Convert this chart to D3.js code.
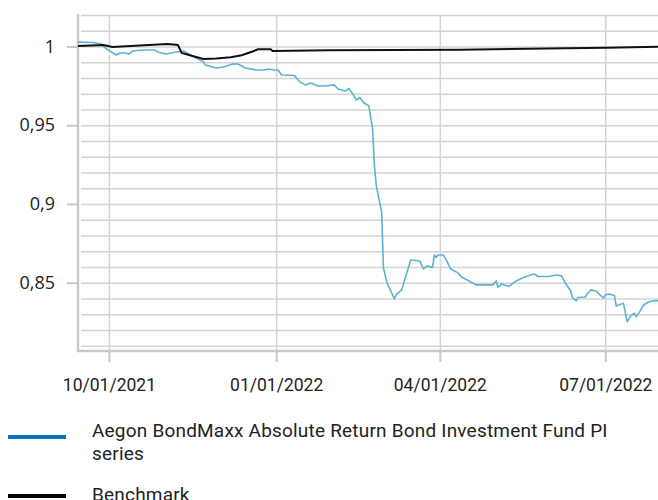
<!DOCTYPE html>
<html>
<head>
<meta charset="utf-8">
<script src="https://cdn.jsdelivr.net/npm/d3@7"></script>
<style>
  body { margin: 0; background: #fff; }
  svg { display: block; }
  .grid line { stroke: #d4d4d4; stroke-width: 1.5; }
  .grid path { display: none; }
</style>
</head>
<body>
<svg id="chart" width="658" height="500"></svg>
<script>
// fund series
var fundDates = ["2021-09-14","2021-09-22","2021-09-27","2021-09-29","2021-10-05","2021-10-07","2021-10-10","2021-10-12","2021-10-14","2021-10-20","2021-10-26","2021-10-28","2021-11-01","2021-11-07","2021-11-11","2021-11-13","2021-11-18","2021-11-22","2021-11-23","2021-11-25","2021-11-29","2021-12-03","2021-12-08","2021-12-11","2021-12-15","2021-12-21","2021-12-25","2021-12-28","2021-12-31","2022-01-02","2022-01-04","2022-01-11","2022-01-14","2022-01-17","2022-01-20","2022-01-24","2022-01-28","2022-02-02","2022-02-04","2022-02-08","2022-02-10","2022-02-13","2022-02-14","2022-02-16","2022-02-18","2022-02-21","2022-02-22","2022-02-23","2022-02-24","2022-02-25","2022-02-28","2022-03-01","2022-03-03","2022-03-07","2022-03-08","2022-03-11","2022-03-16","2022-03-21","2022-03-23","2022-03-25","2022-03-28","2022-03-29","2022-03-30","2022-03-31","2022-04-03","2022-04-05","2022-04-07","2022-04-11","2022-04-13","2022-04-17","2022-04-21","2022-04-25","2022-04-30","2022-05-02","2022-05-03","2022-05-05","2022-05-09","2022-05-13","2022-05-17","2022-05-21","2022-05-23","2022-05-25","2022-05-31","2022-06-04","2022-06-07","2022-06-09","2022-06-12","2022-06-13","2022-06-15","2022-06-16","2022-06-20","2022-06-21","2022-06-23","2022-06-26","2022-06-28","2022-06-30","2022-07-01","2022-07-03","2022-07-06","2022-07-07","2022-07-11","2022-07-13","2022-07-15","2022-07-17","2022-07-18","2022-07-20","2022-07-22","2022-07-25","2022-07-27","2022-07-30"];
var fundValues = [1.0028,1.0025,1.0016,0.9990,0.9946,0.9959,0.9959,0.9952,0.9971,0.9978,0.9978,0.9965,0.9952,0.9965,0.9971,0.9959,0.9927,0.9902,0.9883,0.9876,0.9863,0.9870,0.9889,0.9889,0.9863,0.9851,0.9851,0.9857,0.9851,0.9851,0.9819,0.9816,0.9775,0.9756,0.9768,0.9749,0.9749,0.9756,0.9730,0.9717,0.9733,0.9683,0.9660,0.9676,0.9644,0.9622,0.9546,0.9479,0.9248,0.9121,0.8949,0.8593,0.8498,0.8397,0.8422,0.8454,0.8644,0.8638,0.8587,0.8606,0.8597,0.8676,0.8660,0.8676,0.8676,0.8633,0.8587,0.8562,0.8536,0.8511,0.8486,0.8486,0.8486,0.8511,0.8470,0.8492,0.8476,0.8511,0.8533,0.8549,0.8555,0.8539,0.8539,0.8549,0.8543,0.8498,0.8447,0.8403,0.8384,0.8406,0.8409,0.8428,0.8454,0.8447,0.8422,0.8403,0.8422,0.8428,0.8419,0.8352,0.8369,0.8252,0.8289,0.8306,0.8284,0.8316,0.8358,0.8379,0.8384,0.8386];

// benchmark
var benchDates = ["2021-09-14","2021-09-28","2021-10-03","2021-10-18","2021-11-02","2021-11-07","2021-11-08","2021-11-10","2021-11-16","2021-11-22","2021-11-29","2021-12-07","2021-12-13","2021-12-19","2021-12-22","2021-12-29","2021-12-30","2022-01-30","2022-04-12","2022-07-01","2022-07-30"];
var benchValues = [1.0003,1.0010,0.9997,1.0006,1.0016,1.0011,1.0009,0.9959,0.9940,0.9921,0.9923,0.9932,0.9944,0.9968,0.9982,0.9982,0.9971,0.9976,0.9980,0.9992,0.9999];

var xTickDates = ["2021-10-01","2022-01-01","2022-04-01","2022-07-01"];
var xTickLabels = ["10/01/2021","01/01/2022","04/01/2022","07/01/2022"];
var yTickValues = [0.85, 0.9, 0.95, 1];
var yTickLabels = ["0,85","0,9","0,95","1"];
var legendLabels = [["Aegon BondMaxx Absolute Return Bond Investment Fund PI", "series"], ["Benchmark"]];
var legendColors = ["#0a70c0", "#000000"];

var parse = d3.timeParse("%Y-%m-%d");
var svg = d3.select("#chart");

var x = d3.scaleTime()
  .domain([parse("2021-09-14"), parse("2022-07-30")])
  .range([78, 658]);
var y = d3.scaleLinear()
  .domain([0.8066, 1.02])
  .range([351, 15]);

// horizontal grid every 0.01
var minor = d3.range(81, 103).map(function(d) { return d / 100; });
svg.append("g")
  .attr("class", "grid")
  .attr("transform", "translate(78,0)")
  .call(d3.axisLeft(y).tickValues(minor).tickSize(-580).tickFormat(""))
  .call(function(g) { g.selectAll("line").attr("x1", 3); });

// vertical grid at the labelled dates
svg.append("g")
  .attr("class", "grid")
  .attr("transform", "translate(0,351)")
  .call(d3.axisBottom(x).tickValues(xTickDates.map(parse)).tickSize(-336).tickFormat(""));

// axis lines
svg.append("line").attr("x1", 78).attr("x2", 78).attr("y1", 14).attr("y2", 352)
  .attr("stroke", "#c8c8c8").attr("stroke-width", 2.5);
svg.append("line").attr("x1", 77).attr("x2", 658).attr("y1", 351).attr("y2", 351)
  .attr("stroke", "#c8c8c8").attr("stroke-width", 2.5);

// y axis labels + major ticks
var yAxis = svg.append("g")
  .attr("transform", "translate(78,0)")
  .call(d3.axisLeft(y).tickValues(yTickValues).tickSize(11).tickPadding(12)
    .tickFormat(function(d, i) { return yTickLabels[i]; }));
yAxis.select(".domain").remove();
yAxis.selectAll("line").attr("stroke", "#c8c8c8").attr("stroke-width", 2);
yAxis.selectAll("text")
  .attr("font-family", "'Open Sans', sans-serif")
  .attr("font-size", 18)
  .attr("fill", "#222");

// x axis labels + ticks
var xAxis = svg.append("g")
  .attr("transform", "translate(0,351)")
  .call(d3.axisBottom(x).tickValues(xTickDates.map(parse)).tickSize(11).tickPadding(17)
    .tickFormat(function(d, i) { return xTickLabels[i]; }));
xAxis.select(".domain").remove();
xAxis.selectAll("line").attr("stroke", "#c8c8c8").attr("stroke-width", 2);
xAxis.selectAll("text")
  .attr("font-family", "Roboto, sans-serif")
  .attr("font-size", 17.5)
  .attr("fill", "#222");

var line = d3.line()
  .x(function(d) { return x(d.date); })
  .y(function(d) { return y(d.value); });

var fund = fundDates.map(function(d, i) { return {date: parse(d), value: fundValues[i]}; });
var bench = benchDates.map(function(d, i) { return {date: parse(d), value: benchValues[i]}; });

svg.append("path").datum(fund)
  .attr("fill", "none")
  .attr("stroke", "#5ab4cf")
  .attr("stroke-width", 1.6)
  .attr("stroke-linejoin", "round")
  .attr("d", line);

svg.append("path").datum(bench)
  .attr("fill", "none")
  .attr("stroke", "#111")
  .attr("stroke-width", 2)
  .attr("d", line);

// legend
var legendY = [437, 496];
var legendTextY = [437, 501];
legendLabels.forEach(function(lines, i) {
  var g = svg.append("g");
  g.append("line")
    .attr("x1", 8).attr("x2", 66)
    .attr("y1", legendY[i]).attr("y2", legendY[i])
    .attr("stroke", legendColors[i]).attr("stroke-width", 4);
  var t = g.append("text")
    .attr("x", 92).attr("y", legendTextY[i])
    .attr("font-family", "Roboto, sans-serif")
    .attr("font-size", 19)
    .attr("letter-spacing", 0.2)
    .attr("fill", "#222");
  lines.forEach(function(s, j) {
    t.append("tspan").attr("x", 92).attr("dy", j == 0 ? 0 : 23).text(s);
  });
});
</script>
</body>
</html>
